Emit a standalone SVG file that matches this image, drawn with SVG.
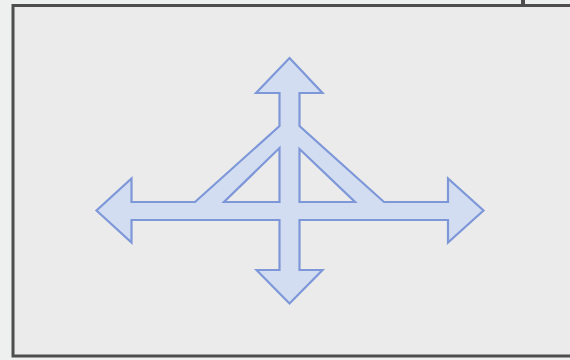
<svg xmlns="http://www.w3.org/2000/svg" width="570" height="360" viewBox="0 0 570 360">
  <style>
    .frame { fill: #ebebeb; stroke: #4d4d4d; stroke-width: 3; }
    .cross { fill: #d2ddf1; stroke: #7d97d8; stroke-width: 2.2; stroke-linejoin: miter; fill-rule: evenodd; }
  </style>
  <rect x="0" y="0" width="570" height="360" fill="#eef0ef"/>
  <g id="frame">
    <rect class="frame" x="13" y="5.5" width="570" height="350.5"/>
    <line x1="523" y1="0" x2="523" y2="5" stroke="#4d4d4d" stroke-width="4"/>
  </g>
  <g id="cross-arrow">
    <path class="cross" d="M289.5,58 L322.5,93 L299.5,93 L299.5,126 L384,202 L448,202 L448,178.5 L483.5,210.5 L448,242.5 L448,220 L299.5,220 L299.5,270 L322.5,270 L289.5,303.5 L256.5,270 L279.5,270 L279.5,220 L131.5,220 L131.5,242.5 L96.5,210.5 L131.5,178.5 L131.5,202 L195,202 L279.5,126 L279.5,93 L256,93 Z M279.5,148 L279.5,202 L224,202 Z M299.5,149 L299.5,202 L355,202 Z"/>
  </g>
</svg>
